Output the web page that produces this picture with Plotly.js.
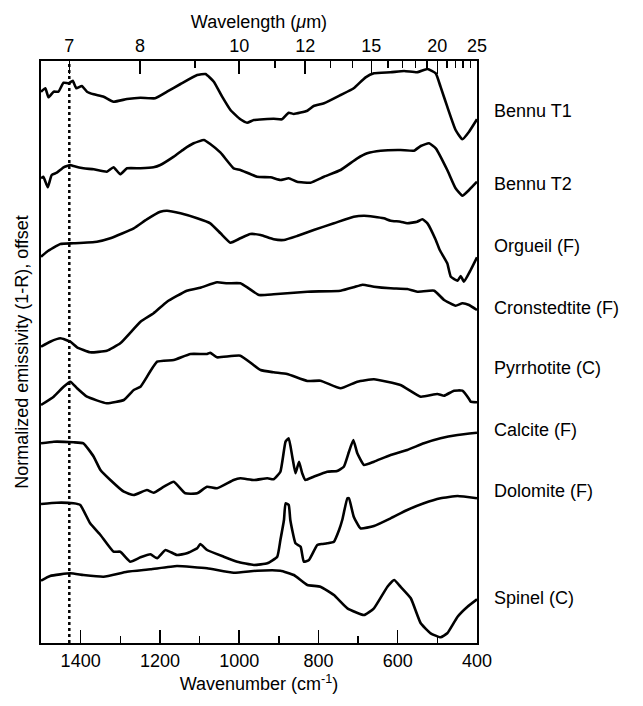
<!DOCTYPE html>
<html>
<head>
<script src="https://cdn.plot.ly/plotly-3.0.1.min.js"></script>
<style>body{margin:0;background:#fff}</style>
</head>
<body>
<div id="myDiv" style="width:643px;height:706px"></div>
<script>
// wavenumber (cm-1) and offset emissivity (plot units, increasing downward)
const bennuT1X = [1500,1489,1481,1468,1456,1443,1430,1420,1411,1397,1384,1367,1342,1317,1283,1249,1212,1182,1148,1106,1085,1064,1043,1022,997,980,963,913,892,875,862,828,812,786,744,711,681,660,618,584,551,525,504,492,475,454,437,420,400];
const bennuT1Y = [91.7,88.3,97.3,91.7,91.7,82.7,83.3,80.7,88.3,86,91.7,94.3,96.7,101.7,99,97.7,98.3,91.7,84,75,74,81.7,96.7,110,119.3,122.7,120,118.7,119.3,112.7,114,110.7,106,103.3,95,88.3,77.3,73.3,72.3,71,72.3,69,73.3,86.7,106.7,130,139.3,131.7,119.3];

const bennuT2X = [1500,1494,1483,1473,1460,1443,1426,1418,1393,1367,1334,1317,1300,1283,1249,1216,1199,1165,1140,1115,1089,1073,1047,1014,997,955,921,896,875,854,820,786,744,702,677,643,593,559,542,521,504,475,454,437,420,400];
const bennuT2Y = [178.3,176.7,187.3,175,172.7,167.3,165,166,168.3,169.3,171.7,167.3,174.3,168.3,168.3,167.3,165,156.7,149.3,143.3,140,144,152.7,168.3,170,176.7,177.3,180,178.3,181.7,182.7,176.7,170,158.3,153.3,150.7,150,150.7,146,143.3,148.3,170,188.3,195.7,190,181.7];

const orgueilX = [1500,1485,1451,1418,1359,1325,1266,1233,1199,1182,1148,1106,1073,1047,1022,997,972,946,913,887,854,812,761,711,685,660,635,618,593,576,551,538,525,504,494,475,466,449,441,433,416,400];
const orgueilY = [256.7,251.7,244,243.3,241.7,238.3,228.3,219.3,211.7,210.7,213.3,218.3,223.3,233.3,242.7,238.3,234,235,239.3,240,236,230,223.3,216.7,215.7,216.7,218.3,220.7,221.7,223.3,221.7,219.3,223.3,240,250,263.3,276.7,280.7,276,281.7,270,257.3];

const cronX = [1500,1477,1451,1426,1409,1376,1334,1300,1249,1216,1182,1132,1098,1056,1030,997,976,950,913,828,744,711,689,660,618,576,551,508,483,454,437,420,400];
const cronY = [346.7,341.7,338.3,341.7,347.3,352.3,350.7,343.3,321.7,313.3,301.7,290.7,287.7,282.3,283.3,283.3,288.3,295,294.3,291.7,290.7,287.3,284.7,286.7,288.3,289,291.7,290.7,300,305.7,303.3,305,310];

const pyrrX = [1500,1468,1443,1426,1409,1384,1334,1291,1266,1249,1207,1165,1123,1081,1073,1056,997,946,913,879,828,795,744,702,660,593,542,500,483,458,437,420,416,400];
const pyrrY = [405,396.7,386.7,381.7,388.3,396.7,403.3,400,390,386.7,361.7,360,354,354,352.7,357.3,355.7,370,372.3,374,381,380.7,388.3,381.7,379.3,385,396.7,394,395.7,390.7,390.7,399,401.7,402.3];

const calciteX = [1500,1468,1418,1393,1367,1350,1325,1291,1266,1233,1216,1190,1165,1136,1106,1081,1056,1014,997,963,929,913,896,883,875,866,858,849,841,833,812,778,753,736,723,712,702,685,660,618,576,534,492,449,400];
const calciteY = [443.3,441.7,442.3,443.3,456.7,470,480,491.7,495,490,492.7,486.7,481.7,493.3,493.3,486.7,488.3,480,478.3,480,478.3,479.3,471.7,441.7,438.3,456.7,473.3,461.7,473.3,480,476.7,471.7,471,466.7,451.7,440,453.3,465,461.7,455,450,443.3,438.3,435,432.7];

const dolomiteX = [1500,1460,1418,1401,1376,1350,1317,1300,1275,1249,1224,1207,1186,1157,1132,1106,1098,1081,1039,1005,963,929,904,896,887,883,875,871,858,845,837,824,803,791,778,761,748,740,727,723,711,694,660,618,576,534,492,449,400];
const dolomiteY = [504,502.7,503.3,505,523.3,535,551.7,551.7,561.7,557.3,554.3,558.3,550,555,553.3,548.3,544,550,556.7,561.7,565,563.3,556.7,540,520,503.3,505,520,543.3,546.7,561.7,560,545,544,543.3,541.7,530,520,498.3,498.3,516.7,528.3,526,518.3,510,503.3,498.3,496,498.3];

const spinelX = [1500,1477,1426,1393,1342,1283,1224,1157,1081,1014,955,896,862,828,795,761,727,685,660,626,609,593,567,542,517,492,475,449,424,400];
const spinelY = [580.7,576,573.3,575,576.7,571.7,569.3,566,568.3,572.7,570.7,570.7,575,585,586.7,595,608.3,615,608.3,586.7,580,586.7,598.3,623.3,633.3,637.3,633.3,616.7,606.7,599.3];

const seriesX = [bennuT1X, bennuT2X, orgueilX, cronX, pyrrX, calciteX, dolomiteX, spinelX];
const seriesY = [bennuT1Y, bennuT2Y, orgueilY, cronY, pyrrY, calciteY, dolomiteY, spinelY];
const names = ['Bennu T1','Bennu T2','Orgueil (F)','Cronstedtite (F)','Pyrrhotite (C)','Calcite (F)','Dolomite (F)','Spinel (C)'];
const labelY = [111,184,246,308,368,430,491,598];

const wlTicks = [7,8,10,12,15,20,25];
const wlMinor = [9,11,13,14,16,17,18,19,21,22,23,24];

const font = {family: 'Liberation Sans, Arial, sans-serif', size: 18, color: '#000'};

let lines = [];
for (let i = 0; i < seriesX.length; i++) {
  lines.push({x: seriesX[i], y: seriesY[i], type: 'scatter', mode: 'lines',
    line: {color: '#000', width: 2.6, shape: 'spline', smoothing: 0.4}, showlegend: false, hoverinfo: 'none'});
}
// dummy trace so top axis is drawn
lines.push({x: [1500, 400], y: [700, 700], xaxis: 'x2', mode: 'lines', line: {width: 0}, showlegend: false, hoverinfo: 'none'});

const annotations = names.map((n, i) => ({
  text: n, x: 1.035, xref: 'paper', xanchor: 'left', y: labelY[i], yref: 'y',
  showarrow: false, font: font
}));

const layout = {
  width: 643, height: 706,
  margin: {l: 41, r: 166, t: 61, b: 63},
  paper_bgcolor: '#fff', plot_bgcolor: '#fff',
  font: font,
  xaxis: {
    range: [1500, 400], showgrid: false, zeroline: false, showline: true, mirror: false,
    linecolor: '#000', linewidth: 2,
    tickvals: [1400,1200,1000,800,600,400], ticks: 'inside', ticklen: 13, tickwidth: 1.5, tickcolor: '#000',
    minor: {tickvals: [1300,1100,900,700,500], ticks: 'inside', ticklen: 7, tickwidth: 1.5, tickcolor: '#000'},
    tickfont: font,
    title: {text: 'Wavenumber (cm<sup>-1</sup>)', font: font, standoff: 8}
  },
  xaxis2: {
    overlaying: 'x', side: 'top', range: [1500, 400], showgrid: false, zeroline: false,
    showline: true, linecolor: '#000', linewidth: 2,
    tickvals: wlTicks.map(w => 10000 / w), ticktext: wlTicks.map(String),
    ticks: 'inside', ticklen: 13, tickwidth: 1.5, tickcolor: '#000',
    minor: {tickvals: wlMinor.map(w => 10000 / w), ticks: 'inside', ticklen: 7, tickwidth: 1.5, tickcolor: '#000'},
    tickfont: font,
    title: {text: 'Wavelength (<i>μ</i>m)', font: font, standoff: 2}
  },
  yaxis: {
    range: [643, 61], showgrid: false, zeroline: false, showline: true, mirror: true,
    linecolor: '#000', linewidth: 2, showticklabels: false, ticks: '',
    title: {text: 'Normalized emissivity (1-R), offset', font: font, standoff: 6}
  },
  shapes: [{type: 'line', xref: 'x', yref: 'paper', x0: 1428.6, x1: 1428.6, y0: 0, y1: 1,
    line: {color: '#000', width: 2.5, dash: 'dot'}}],
  annotations: annotations
};

Plotly.newPlot('myDiv', lines, layout, {staticPlot: true});
</script>
</body>
</html>
